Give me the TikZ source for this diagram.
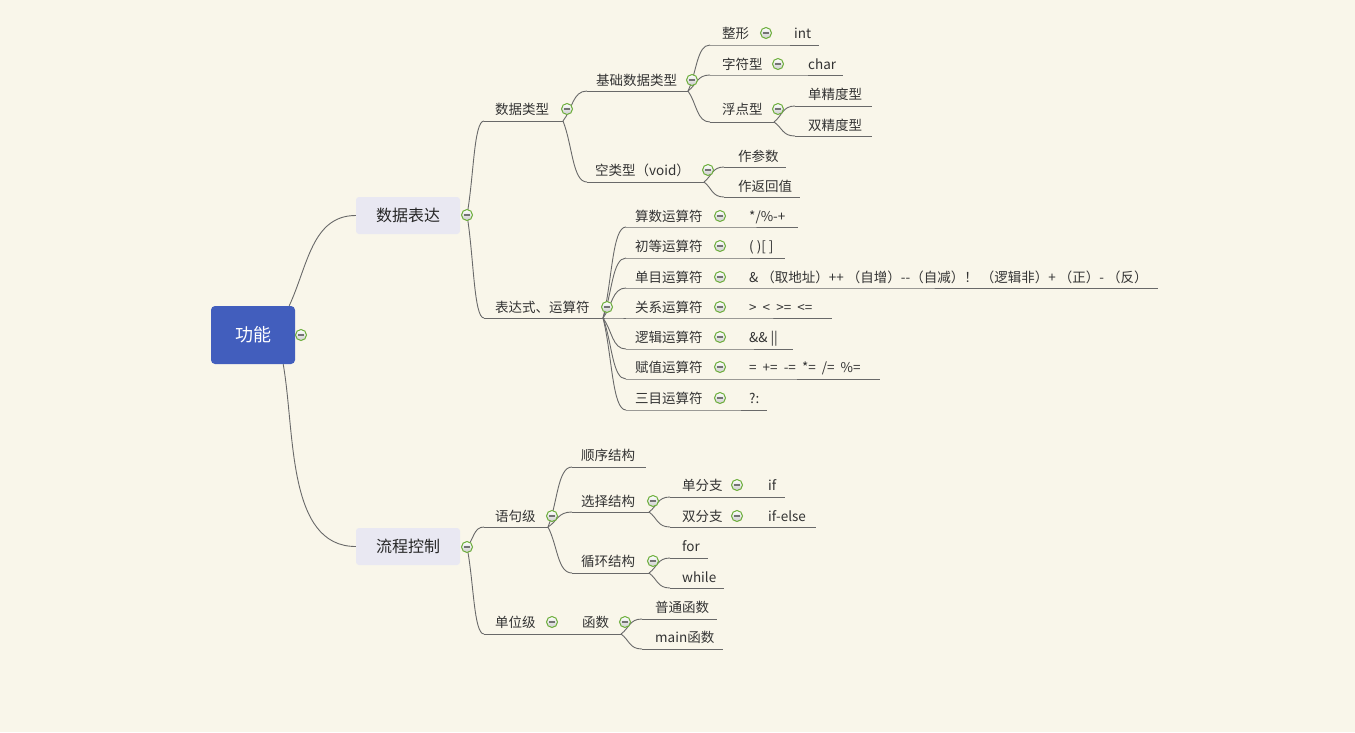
\documentclass[tikz,border=0pt]{standalone}
\usepackage{fontspec}
\newfontfamily\cjk{Noto Sans CJK SC}
\usetikzlibrary{positioning, calc}
\definecolor{paper}{RGB}{249,246,234}
\definecolor{rootblue}{RGB}{66,94,189}
\definecolor{mainfill}{RGB}{233,232,242}
\definecolor{txtgray}{RGB}{51,51,51}
\definecolor{linegray}{RGB}{105,105,105}
\definecolor{foldgreen}{RGB}{108,174,58}
\tikzset{
    rootbox/.style={rectangle, rounded corners=4pt, fill=rootblue, text=white, minimum width=84pt, minimum height=58pt, font=\cjk\fontsize{18}{22}\selectfont},
    mainbox/.style={rectangle, rounded corners=3pt, fill=mainfill, text=black!85, minimum width=104pt, minimum height=37pt, font=\cjk\fontsize{16}{20}\selectfont},
    topic/.style={anchor=base west, inner sep=0pt, text=txtgray, font=\cjk\fontsize{13.5}{16}\selectfont},
    fold/.style={circle, draw=foldgreen, line width=1pt, top color=white, bottom color=black!20, minimum size=11pt, inner sep=0pt,
        path picture={\draw[black!55, line width=1.1pt] ([xshift=-3pt]path picture bounding box.center) -- ([xshift=3pt]path picture bounding box.center);}},
    uline/.style={draw=linegray, line width=0.9pt},
    branch/.style={draw=linegray, line width=0.9pt, to path={.. controls ($(\tikztostart)!0.4!(\tikztotarget)$) and ($(\tikztostart |- \tikztotarget)!0.4!(\tikztotarget)$) .. (\tikztotarget)}}
}
\begin{document}
\begin{tikzpicture}[x=1pt, y=-1pt]
\fill[paper] (0,0) rectangle (1355,732);
\useasboundingbox (0,0) rectangle (1355,732);

% main topics
\node[rootbox] (gn) at (253,335) {功能};
\node[mainbox] (sjbd) at (408,215.5) {数据表达};
\node[mainbox] (lckz) at (408,546.5) {流程控制};
\coordinate (sjbd-e) at (467,215);
\coordinate (lckz-e) at (467,547);

% 数据表达
\node[topic] (sjlx) at (495,114) {数据类型};
\node[topic] (bds) at (495,312) {表达式、运算符};
\node[topic] (jc) at (596,85) {基础数据类型};
\node[topic] (kl) at (595,175) {空类型（void）};
\node[topic] (zx) at (722,38) {整形};
\node[topic] (zxv) at (794,38) {int};
\node[topic] (zf) at (722,69) {字符型};
\node[topic] (zfv) at (808,69) {char};
\node[topic] (fd) at (722,114) {浮点型};
\node[topic] (dj) at (808,99) {单精度型};
\node[topic] (sj) at (808,130) {双精度型};
\node[topic] (zcs) at (738,161) {作参数};
\node[topic] (zfh) at (738,191) {作返回值};

\node[topic] (ss) at (635,221) {算数运算符};
\node[topic] (ssv) at (749,221) {*/\%-+};
\node[topic] (cd) at (635,251) {初等运算符};
\node[topic] (cdv) at (749,251) {( )[ ]};
\node[topic] (dm) at (635,282) {单目运算符};
\node[topic] (dmv) at (749,282) {\& （取地址）++ （自增）-{}-（自减）！ （逻辑非）+ （正）- （反）};
\node[topic] (gx) at (635,312) {关系运算符};
\node[topic] (gxv) at (749,312) {>~~<~~>=~~<=};
\node[topic] (lj) at (635,342) {逻辑运算符};
\node[topic] (ljv) at (749,342) {\&\&~||};
\node[topic] (fz) at (635,372) {赋值运算符};
\node[topic] (fzv) at (749,372) {=~~+=~~-=~~*=~~/=~~\%=};
\node[topic] (sm) at (635,403) {三目运算符};
\node[topic] (smv) at (749,403) {?:};

% 流程控制
\node[topic] (yjj) at (495,521) {语句级};
\node[topic] (dwj) at (495,627) {单位级};
\node[topic] (sx) at (581,460) {顺序结构};
\node[topic] (xz) at (581,506) {选择结构};
\node[topic] (dfz) at (682,490) {单分支};
\node[topic] (dfzv) at (768,490) {if};
\node[topic] (sfz) at (682,521) {双分支};
\node[topic] (sfzv) at (768,521) {if-else};
\node[topic] (xh) at (581,566) {循环结构};
\node[topic] (for) at (682,551) {for};
\node[topic] (while) at (682,582) {while};
\node[topic] (hs) at (582,627) {函数};
\node[topic] (pt) at (655,612) {普通函数};
\node[topic] (mn) at (655,642) {main函数};

% underlines
\draw[uline] (484,121) coordinate (sjlx-s) -- (563,121) coordinate (sjlx-e);
\draw[uline] (484,318) coordinate (bds-s) -- (603,318) coordinate (bds-e);
\draw[uline] (587,91) coordinate (jc-s) -- (688,91) coordinate (jc-e);
\draw[uline] (587,182) coordinate (kl-s) -- (704,182) coordinate (kl-e);
\draw[uline] (710,45) coordinate (zx-s) -- (762,45) coordinate (zx-e) -- (819,45);
\draw[uline] (710,75) coordinate (zf-s) -- (774,75) coordinate (zf-e) -- (843,75);
\draw[uline] (710,122) coordinate (fd-s) -- (774,122) coordinate (fd-e);
\draw[uline] (795,106) coordinate (dj-s) -- (872,106);
\draw[uline] (795,136) coordinate (sj-s) -- (872,136);
\draw[uline] (724,167) coordinate (zcs-s) -- (786,167);
\draw[uline] (724,197) coordinate (zfh-s) -- (800,197);
\draw[uline] (626,227) coordinate (ss-s) -- (716,227) coordinate (ss-e) -- (798,227);
\draw[uline] (626,258) coordinate (cd-s) -- (716,258) coordinate (cd-e) -- (785,258);
\draw[uline] (626,288) coordinate (dm-s) -- (716,288) coordinate (dm-e) -- (1158,288);
\draw[uline] (626,318) coordinate (gx-s) -- (716,318) coordinate (gx-e) -- (832,318);
\draw[uline] (626,349) coordinate (lj-s) -- (716,349) coordinate (lj-e) -- (793,349);
\draw[uline] (626,379) coordinate (fz-s) -- (716,379) coordinate (fz-e) -- (880,379);
\draw[uline] (626,410) coordinate (sm-s) -- (716,410) coordinate (sm-e) -- (767,410);

\draw[uline] (484,527) coordinate (yjj-s) -- (548,527) coordinate (yjj-e);
\draw[uline] (484,634) coordinate (dwj-s) -- (548,634) coordinate (dwj-e);
\draw[uline] (568,634) coordinate (hs-s) -- (621,634) coordinate (hs-e);
\draw[uline] (572,467) coordinate (sx-s) -- (646,467);
\draw[uline] (572,512) coordinate (xz-s) -- (649,512) coordinate (xz-e);
\draw[uline] (572,573) coordinate (xh-s) -- (649,573) coordinate (xh-e);
\draw[uline] (670,497) coordinate (dfz-s) -- (733,497) coordinate (dfz-e) -- (785,497);
\draw[uline] (670,527) coordinate (sfz-s) -- (733,527) coordinate (sfz-e) -- (816,527);
\draw[uline] (670,558) coordinate (for-s) -- (708,558);
\draw[uline] (670,588) coordinate (while-s) -- (724,588);
\draw[uline] (642,619) coordinate (pt-s) -- (717,619);
\draw[uline] (642,649) coordinate (mn-s) -- (723,649);

% branches
\draw[linegray, line width=0.9pt] ([xshift=-6pt]gn.north east) to[out=65, in=180] (sjbd.west);
\draw[linegray, line width=0.9pt] ([xshift=-12pt]gn.south east) to[out=-80, in=180, looseness=0.9] (lckz.west);
\draw[branch] (sjbd-e) to (sjlx-s);
\draw[branch] (sjbd-e) to (bds-s);
\draw[branch] (sjlx-e) to (jc-s);
\draw[branch] (sjlx-e) to (kl-s);
\draw[branch] (jc-e) to (zx-s);
\draw[branch] (jc-e) to (zf-s);
\draw[branch] (jc-e) to (fd-s);
\draw[branch] (fd-e) to (dj-s);
\draw[branch] (fd-e) to (sj-s);
\draw[branch] (kl-e) to (zcs-s);
\draw[branch] (kl-e) to (zfh-s);
\draw[branch] (bds-e) to (ss-s);
\draw[branch] (bds-e) to (cd-s);
\draw[branch] (bds-e) to (dm-s);
\draw[branch] (bds-e) to (gx-s);
\draw[branch] (bds-e) to (lj-s);
\draw[branch] (bds-e) to (fz-s);
\draw[branch] (bds-e) to (sm-s);
\draw[branch] (lckz-e) to (yjj-s);
\draw[branch] (lckz-e) to (dwj-s);
\draw[branch] (yjj-e) to (sx-s);
\draw[branch] (yjj-e) to (xz-s);
\draw[branch] (yjj-e) to (xh-s);
\draw[branch] (xz-e) to (dfz-s);
\draw[branch] (xz-e) to (sfz-s);
\draw[branch] (xh-e) to (for-s);
\draw[branch] (xh-e) to (while-s);
\draw[branch] (dwj-e) to (hs-s);
\draw[branch] (hs-e) to (pt-s);
\draw[branch] (hs-e) to (mn-s);

% fold marks
\node[fold] (gn-f) at (301,335) {};
\node[fold] (sjbd-f) at (sjbd-e) {};
\node[fold] (lckz-f) at (lckz-e) {};
\node[fold] (sjlx-f) at (567,109) {};
\node[fold] (bds-f) at (607,307) {};
\node[fold] (jc-f) at (692,80) {};
\node[fold] (kl-f) at (708,170) {};
\node[fold] (zx-f) at (766,33) {};
\node[fold] (zf-f) at (778,64) {};
\node[fold] (fd-f) at (778,109) {};
\node[fold] (ss-f) at (720,216) {};
\node[fold] (cd-f) at (720,246) {};
\node[fold] (dm-f) at (720,277) {};
\node[fold] (gx-f) at (720,307) {};
\node[fold] (lj-f) at (720,337) {};
\node[fold] (fz-f) at (720,367) {};
\node[fold] (sm-f) at (720,398) {};
\node[fold] (yjj-f) at (552,516) {};
\node[fold] (dwj-f) at (552,622) {};
\node[fold] (hs-f) at (625,622) {};
\node[fold] (xz-f) at (653,501) {};
\node[fold] (xh-f) at (653,561) {};
\node[fold] (dfz-f) at (737,485) {};
\node[fold] (sfz-f) at (737,516) {};
\end{tikzpicture}
\end{document}
